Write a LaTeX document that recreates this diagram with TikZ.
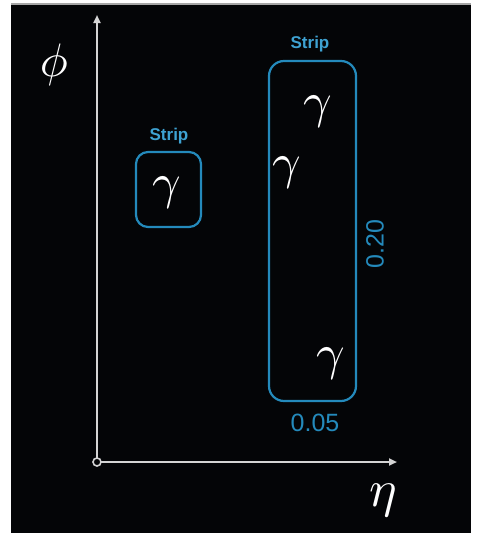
\documentclass[tikz,border=0pt]{standalone}
\usepackage{fontspec}
\usepackage{graphicx}
\setsansfont{Liberation Sans}
\usetikzlibrary{arrows.meta}
\definecolor{stripblue}{RGB}{36,138,188}
\definecolor{labelblue}{RGB}{62,162,210}
\definecolor{axisgray}{RGB}{212,212,212}
\definecolor{bg}{RGB}{4,5,7}
\newcommand{\bigsym}[2]{\scalebox{#1}{$#2$}}
\begin{document}
\begin{tikzpicture}[x=1pt,y=-1pt,
  stripbox/.style={draw=stripblue,line width=2.2pt,rounded corners=12pt},
  striplabel/.style={text=labelblue,font=\sffamily\bfseries\fontsize{17}{20}\selectfont,inner sep=0pt},
  dimlabel/.style={text=stripblue,font=\sffamily\fontsize{25}{28}\selectfont,inner sep=0pt},
  photon/.style={text=white,inner sep=0pt},
  axislabel/.style={text=white,inner sep=0pt},
  axis/.style={draw=axisgray,line width=2pt,-{Triangle[length=8pt,width=7pt]}}]
\useasboundingbox (0,0) rectangle (479,533);
\fill[white] (0,0) rectangle (479,533);
\fill[bg] (11,3) rectangle (471,533);
\fill[gray!70] (11,3) rectangle (471,5);
% axes
\coordinate (o) at (97,462);
\coordinate (ytip) at (97,15);
\coordinate (xtip) at (397,462);
\draw[axis] (o) -- (ytip);
\draw[axis] (o) -- (xtip);
\draw[axisgray,line width=1.6pt,fill=bg] (o) circle (4pt);
\node[axislabel] (phi) at (54,65) {\bigsym{4.7}{\phi}};
\node[axislabel] (eta) at (383,500) {\bigsym{5.2}{\eta}};
% small strip
\draw[stripbox] (136,152) rectangle (201,227);
\node[striplabel] (s1) at (169,136) {Strip};
\node[photon] (g1) at (167,193) {\bigsym{5}{\gamma}};
% big strip
\draw[stripbox,rounded corners=15pt] (269,61) rectangle (356,401);
\node[striplabel] (s2) at (310,44) {Strip};
\node[photon] (g2) at (318,112) {\bigsym{5}{\gamma}};
\node[photon] (g3) at (287,173) {\bigsym{5}{\gamma}};
\node[photon] (g4) at (331,364) {\bigsym{5}{\gamma}};
\node[dimlabel,rotate=90] (h) at (375,244) {0.20};
\node[dimlabel] (w) at (315,423) {0.05};
\end{tikzpicture}
\end{document}
